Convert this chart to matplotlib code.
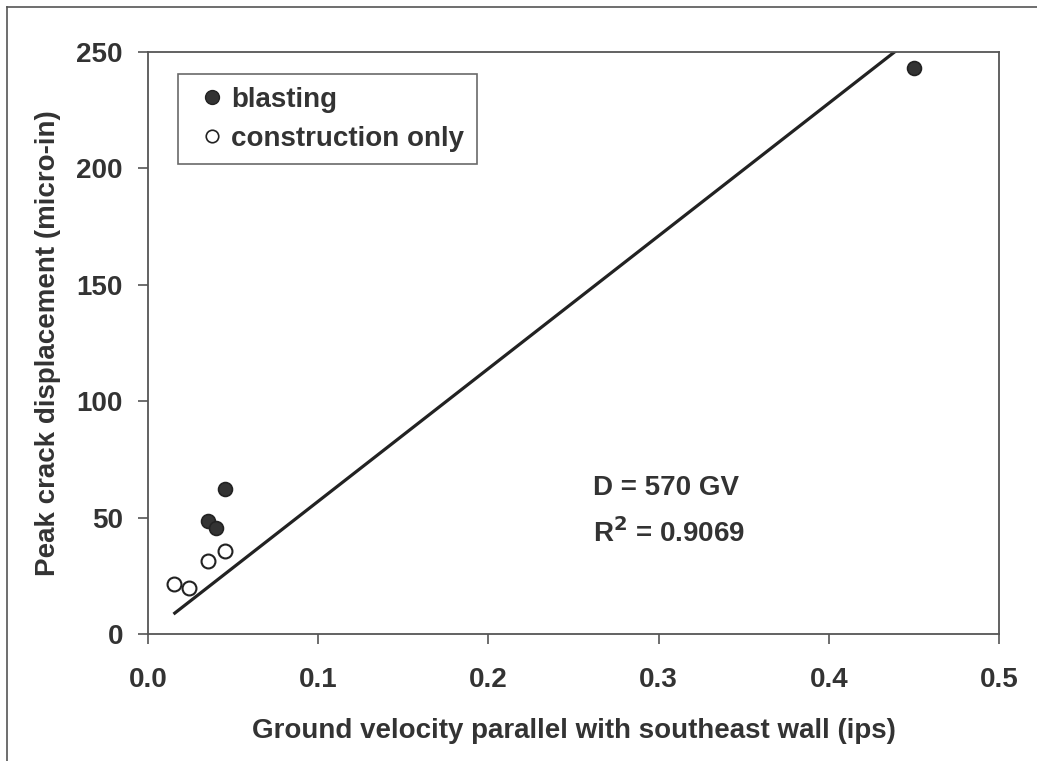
import matplotlib
matplotlib.use("Agg")
import matplotlib.pyplot as plt
from matplotlib.lines import Line2D
import numpy as np

# Data
blast_x = [0.035, 0.040, 0.045, 0.450]
blast_y = [48.7, 45.7, 62.2, 243.3]
const_x = [0.015, 0.024, 0.035, 0.045]
const_y = [21.3, 19.6, 31.4, 35.8]
fit_slope = 570
fit_x = [0.015, 0.45]
xticks = [0.0, 0.1, 0.2, 0.3, 0.4, 0.5]
xtick_labels = ["0.0", "0.1", "0.2", "0.3", "0.4", "0.5"]
yticks = [0, 50, 100, 150, 200, 250]

TXT = "#333333"
FS = 20
plt.rcParams['font.family'] = ['Liberation Sans', 'DejaVu Sans']
plt.rcParams['font.weight'] = 'bold'

fig = plt.figure(figsize=(10.37, 7.61), dpi=100)
ax = fig.add_axes([0.1427, 0.1669, 0.9634 - 0.1427, 0.9317 - 0.1669])

fx = np.array(fit_x)
ax.plot(fx, fit_slope * fx, color="#222222", lw=2.3, solid_capstyle="butt", zorder=2)
ax.plot(blast_x, blast_y, 'o', ms=10, mfc="#333333", mec="#222222", mew=1.2, ls='none', zorder=3)
ax.plot(const_x, const_y, 'o', ms=10, mfc="white", mec="#222222", mew=1.5, ls='none', zorder=3)

ax.set_xlim(0, 0.5)
ax.set_ylim(0, 250)
ax.set_xticks(xticks)
ax.set_xticklabels(xtick_labels)
ax.set_yticks(yticks)
ax.tick_params(direction='out', length=7, width=1.2, color="#555555",
               labelsize=FS, labelcolor=TXT)
ax.tick_params(axis='y', pad=11)
ax.tick_params(axis='x', pad=17)
for s in ax.spines.values():
    s.set_color("#555555")
    s.set_linewidth(1.3)

ax.set_xlabel("Ground velocity parallel with southeast wall (ips)", fontsize=FS,
              fontweight='bold', color=TXT, labelpad=18)
ax.set_ylabel("Peak crack displacement (micro-in)", fontsize=FS,
              fontweight='bold', color=TXT, labelpad=11)

ax.text(0.2615, 62.7, "D = 570 GV", fontsize=FS, fontweight='bold', color=TXT,
        ha='left', va='center')
ax.text(0.2615, 43.4, r"R$^\mathbf{2}$ = 0.9069", fontsize=FS, fontweight='bold', color=TXT,
        ha='left', va='center')

handles = [
    Line2D([], [], marker='o', ls='none', ms=10, mfc="#333333", mec="#222222"),
    Line2D([], [], marker='o', ls='none', ms=9, mfc="white", mec="#222222", mew=1.2),
]
leg = ax.legend(handles, ["blasting", "construction only"], loc='upper left',
                bbox_to_anchor=(0.035, 0.962), borderaxespad=0, fontsize=FS, frameon=True,
                fancybox=False, edgecolor="#444444", handlelength=1.6,
                handletextpad=-0.12, borderpad=0.45, labelspacing=0.47)
leg.get_frame().set_linewidth(1.2)
for t in leg.get_texts():
    t.set_color(TXT)
    t.set_fontweight('bold')

# outer frame (top and left edges visible)
fig.add_artist(Line2D([7/1037, 7/1037], [0, 1 - 7/761], transform=fig.transFigure,
                      color="#555555", lw=1.2))
fig.add_artist(Line2D([7/1037, 1], [1 - 7/761, 1 - 7/761], transform=fig.transFigure,
                      color="#555555", lw=1.2))

fig.savefig("out.png", dpi=100)
